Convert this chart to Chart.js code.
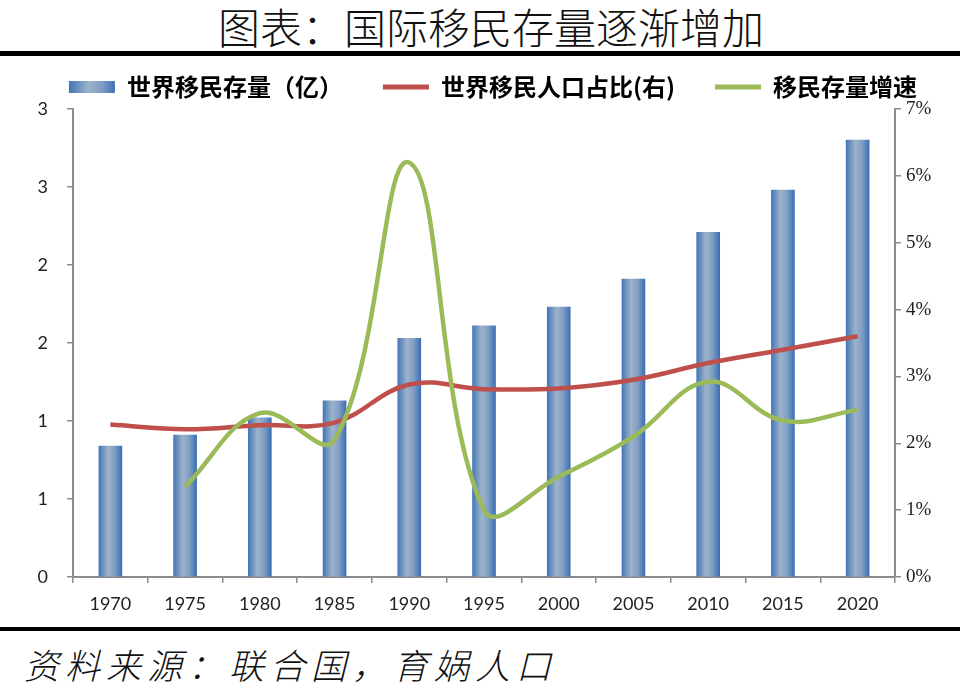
<!DOCTYPE html>
<html>
<head>
<meta charset="utf-8">
<script src="https://cdn.jsdelivr.net/npm/chart.js@4.4.1/dist/chart.umd.min.js"></script>
<style>
  body { margin: 0; background: #fff; width: 960px; height: 693px; position: relative; overflow: hidden; }
  #title { position: absolute; left: 11px; top: 1px; width: 960px; text-align: center;
    font-family: "Noto Sans CJK SC", sans-serif; font-weight: 300; font-size: 42px; line-height: 50px; color: #111; }
  .rule { position: absolute; left: 0; width: 960px; background: #000; }
  #source { position: absolute; left: 24px; top: 640px; font-family: "Noto Sans CJK SC", sans-serif;
    font-weight: 300; font-style: italic; font-size: 35px; line-height: 48px; letter-spacing: 6px; color: #111; }
  #chart { position: absolute; left: 0; top: 35px; }
</style>
</head>
<body>
<div id="title">图表：国际移民存量逐渐增加</div>
<div class="rule" style="top:51px;height:5px"></div>
<canvas id="chart" width="960" height="590"></canvas>
<div class="rule" style="top:627px;height:4px"></div>
<div id="source">资料来源：联合国，育娲人口</div>

<script>
// data
const years = ["1970","1975","1980","1985","1990","1995","2000","2005","2010","2015","2020"];
const migrantStock = [0.84, 0.91, 1.02, 1.13, 1.53, 1.61, 1.73, 1.91, 2.21, 2.48, 2.80];   // 亿
const migrantShare = [2.28, 2.21, 2.27, 2.31, 2.88, 2.81, 2.82, 2.95, 3.20, 3.40, 3.60];   // %
const stockGrowth = [null, 1.35, 2.45, 2.05, 6.20, 1.00, 1.50, 2.10, 2.92, 2.34, 2.50];    // %
const leftTickLabels = ["0", "1", "1", "2", "2", "3", "3"];
const rightTickLabels = ["0%", "1%", "2%", "3%", "4%", "5%", "6%", "7%"];
const legendNames = ["世界移民存量（亿）", "世界移民人口占比(右)", "移民存量增速"];

const ctx = document.getElementById('chart');
const c2d = ctx.getContext('2d');

function blueGradient(x0, x1) {
    const g = c2d.createLinearGradient(x0, 0, x1, 0);
    g.addColorStop(0, '#4677b7');
    g.addColorStop(0.4, '#9db3ca');
    g.addColorStop(0.7, '#7e9dc4');
    g.addColorStop(1, '#3a6fb3');
    return g;
}

// per-bar horizontal gradient
function barFill(c) {
    const xs = c.chart.scales.x;
    if (c.type !== 'data' || !xs) return '#6f93bf';
    const cx = xs.getPixelForValue(c.dataIndex);
    return blueGradient(cx - 11.5, cx + 11.5);
}

new Chart(ctx, {
    type: 'bar',
    data: {
        labels: years,
        datasets: [
            {
                type: 'line',
                label: legendNames[2],
                data: stockGrowth,
                yAxisID: 'y1',
                borderColor: '#9bbb59',
                borderWidth: 4.5,
                pointRadius: 0,
                tension: 0.4,
                order: 0
            },
            {
                type: 'line',
                label: legendNames[1],
                data: migrantShare,
                yAxisID: 'y1',
                borderColor: '#be4f4b',
                borderWidth: 4.5,
                pointRadius: 0,
                tension: 0.4,
                order: 1
            },
            {
                label: legendNames[0],
                data: migrantStock,
                yAxisID: 'y',
                backgroundColor: barFill,
                barThickness: 23,
                order: 2
            }
        ]
    },
    options: {
        responsive: false,
        animation: false,
        layout: { padding: { top: 0, left: 26, right: 0, bottom: 0 } },
        plugins: {
            tooltip: { enabled: false },
            legend: {
                position: 'top',
                labels: {
                    usePointStyle: true,
                    pointStyleWidth: 46,
                    boxHeight: 12,
                    padding: 40,
                    color: '#000',
                    font: { family: '"Noto Sans CJK SC", sans-serif', size: 24, weight: 'bold' },
                    generateLabels: () => [
                        { text: legendNames[0], pointStyle: 'rect', fillStyle: blueGradient(70, 116), strokeStyle: 'rgba(0,0,0,0)', lineWidth: 0, datasetIndex: 2 },
                        { text: legendNames[1], pointStyle: 'line', fillStyle: '#be4f4b', strokeStyle: '#be4f4b', lineWidth: 5, datasetIndex: 1 },
                        { text: legendNames[2], pointStyle: 'line', fillStyle: '#9bbb59', strokeStyle: '#9bbb59', lineWidth: 5, datasetIndex: 0 }
                    ]
                }
            }
        },
        scales: {
            x: {
                offset: true,
                grid: { offset: true, drawOnChartArea: false, drawTicks: true, tickLength: 6, color: '#8c8c8c', lineWidth: 1.5 },
                border: { color: '#8c8c8c', width: 2 },
                ticks: { color: '#222', padding: 10, maxRotation: 0, font: { family: 'Lato, sans-serif', size: 18 } },
                afterFit: (s) => { s.height = 48; }
            },
            y: {
                position: 'left',
                min: 0,
                max: 3,
                grid: { drawOnChartArea: false, drawTicks: true, tickLength: 6, color: '#8c8c8c', lineWidth: 1.5 },
                border: { color: '#8c8c8c', width: 2 },
                ticks: {
                    stepSize: 0.5,
                    padding: 19,
                    color: '#222',
                    font: { family: 'Lato, sans-serif', size: 18 },
                    callback: (v, i) => leftTickLabels[i]
                },
                afterFit: (s) => { s.width = 47; }
            },
            y1: {
                position: 'right',
                min: 0,
                max: 7,
                grid: { drawOnChartArea: false, drawTicks: true, tickLength: 6, color: '#8c8c8c', lineWidth: 1.5 },
                border: { color: '#8c8c8c', width: 2 },
                ticks: {
                    stepSize: 1,
                    padding: 5,
                    color: '#222',
                    font: { family: '"Liberation Serif", serif', size: 19 },
                    callback: (v, i) => rightTickLabels[i]
                },
                afterFit: (s) => { s.width = 65; }
            }
        }
    }
});
</script>
</body>
</html>
